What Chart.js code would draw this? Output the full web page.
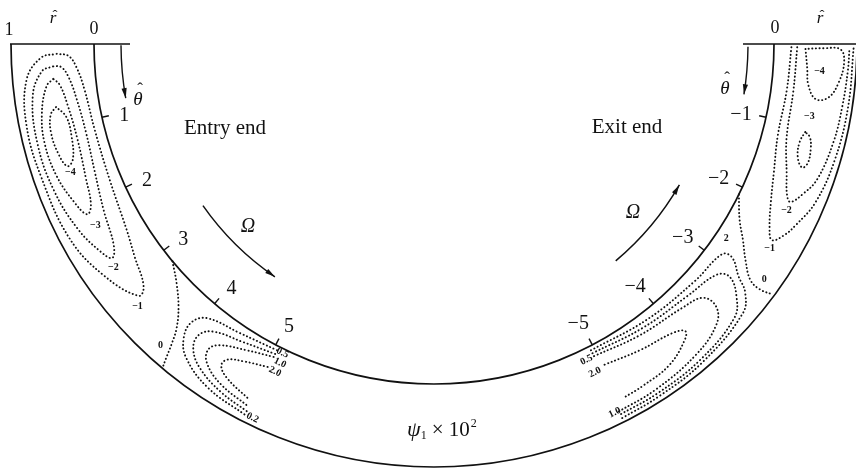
<!DOCTYPE html>
<html>
<head>
<meta charset="utf-8">
<script src="https://cdn.jsdelivr.net/npm/chart.js@4.4.0/dist/chart.umd.min.js"></script>
<style>
  html, body { margin: 0; padding: 0; background: #fff; }
  canvas { display: block; }
</style>
</head>
<body>
<canvas id="bend" width="856" height="468"></canvas>
<script>
// Annular bend: r-hat runs 0 (inner wall) -> 1 (outer wall),
// theta-hat runs along the bend from the entry end (left) and exit end (right).
var R_IN = 340, R_OUT = 423;
var DEG_PER_THETA = 12.45;
var INK = '#111';
var SERIF = '"Liberation Serif", "DejaVu Serif", serif';

// theta-hat ticks on the inner wall
var entryTicks = [1, 2, 3, 4, 5];
var exitTicks = [-1, -2, -3, -4, -5];
// r-hat labels at each end
var entryRLabels = ['1', '0'];
var exitRLabels = ['0'];

// psi_1 x 10^2 contours, points are [theta-hat, r-hat]
var entryPsiM4 = [[0.76,0.52],[0.84,0.6],[1.05,0.64],[1.3,0.62],[1.48,0.56],[1.42,0.47],[1.15,0.41],[0.9,0.42],[0.76,0.52]];
var entryPsiM3 = [[0.42,0.51],[0.5,0.6],[0.8,0.7],[1.15,0.745],[1.55,0.72],[1.9,0.64],[2.1,0.56],[2.02,0.47],[1.7,0.4],[1.2,0.35],[0.75,0.38],[0.5,0.44],[0.42,0.51]];
var entryPsiM2 = [[0.27,0.5],[0.32,0.64],[0.6,0.78],[1.15,0.83],[1.7,0.81],[2.2,0.74],[2.55,0.64],[2.7,0.56],[2.58,0.46],[2.15,0.36],[1.65,0.27],[1.15,0.23],[0.7,0.26],[0.4,0.33],[0.28,0.41],[0.27,0.5]];
var entryPsiM1 = [[0.12,0.45],[0.16,0.64],[0.4,0.83],[0.9,0.91],[1.5,0.9],[2.26,0.88],[2.82,0.76],[3.25,0.58],[3.2,0.46],[2.85,0.33],[2.5,0.23],[1.83,0.14],[1.15,0.12],[0.6,0.15],[0.3,0.22],[0.15,0.31],[0.12,0.45]];
var entryPsi0 = [[3.19,0.0],[3.45,0.14],[3.68,0.32],[3.84,0.52],[3.92,0.7],[3.98,0.88],[4.02,1.0]];
var entryPsi02 = [[5.05,0.05],[4.5,0.1],[4.05,0.19],[3.93,0.35],[3.98,0.55],[4.15,0.72],[4.55,0.86],[5.07,0.92]];
var entryPsi05 = [[5.05,0.1],[4.6,0.17],[4.22,0.27],[4.1,0.41],[4.15,0.58],[4.35,0.72],[4.7,0.82],[5.06,0.87]];
var entryPsi10 = [[5.05,0.14],[4.7,0.23],[4.38,0.36],[4.3,0.48],[4.38,0.62],[4.65,0.74],[5.05,0.81]];
var entryPsi20 = [[5.04,0.28],[4.75,0.36],[4.56,0.45],[4.54,0.55],[4.68,0.64],[5.02,0.73]];

var exitPsiM4 = [[-0.06,0.38],[-0.3,0.41],[-0.5,0.44],[-0.66,0.55],[-0.62,0.7],[-0.44,0.8],[-0.2,0.85],[-0.06,0.8],[-0.05,0.6],[-0.06,0.38]];
var exitPsiM3 = [[-1.07,0.5],[-1.2,0.465],[-1.38,0.49],[-1.49,0.58],[-1.42,0.63],[-1.25,0.615],[-1.12,0.57],[-1.07,0.5]];
var exitPsiM2 = [[-0.04,0.28],[-0.6,0.27],[-1.2,0.3],[-1.62,0.43],[-1.86,0.53],[-1.92,0.6],[-1.78,0.7],[-1.56,0.8],[-1.1,0.86],[-0.7,0.88],[-0.3,0.9],[-0.04,0.91]];
var exitPsiM1 = [[-0.04,0.21],[-0.6,0.19],[-1.2,0.19],[-1.66,0.28],[-2.0,0.38],[-2.3,0.51],[-2.42,0.61],[-2.3,0.71],[-2.13,0.78],[-1.81,0.88],[-1.3,0.93],[-0.7,0.95],[-0.04,0.96]];
var exitPsi0 = [[-2.11,0.0],[-2.4,0.15],[-2.6,0.31],[-2.8,0.48],[-2.95,0.66],[-2.97,0.82],[-2.93,0.98]];
var exitPsi02 = [[-5.05,0.05],[-4.2,0.1],[-3.4,0.15],[-2.9,0.2],[-2.86,0.32],[-3.0,0.52],[-3.1,0.7],[-3.3,0.84],[-4.0,0.92],[-4.6,0.94],[-5.1,0.95]];
var exitPsi05 = [[-5.05,0.09],[-4.3,0.15],[-3.6,0.21],[-3.15,0.3],[-3.07,0.44],[-3.2,0.65],[-3.4,0.8],[-4.0,0.88],[-4.6,0.9],[-5.1,0.9]];
var exitPsi10 = [[-5.05,0.13],[-4.4,0.2],[-3.75,0.27],[-3.48,0.36],[-3.45,0.55],[-3.6,0.7],[-4.0,0.8],[-4.6,0.85],[-5.1,0.86]];
var exitPsi20 = [[-4.98,0.28],[-4.5,0.35],[-4.05,0.42],[-3.92,0.5],[-4.0,0.58],[-4.32,0.7],[-4.7,0.73],[-4.97,0.74]];

// contour value labels: [text, theta-hat, r-hat, written along the wall]
var entryLevelLabels = [
  ['\u22124', 1.56, 0.55, false], ['\u22123', 2.26, 0.53, false], ['\u22122', 2.8, 0.61, false],
  ['\u22121', 3.33, 0.67, false], ['0', 3.84, 0.81, false],
  ['0.5', 5.13, 0.05, true], ['1.0', 5.16, 0.17, true], ['2.0', 5.15, 0.29, true], ['0.2', 5.15, 0.91, true]
];
var exitLevelLabels = [
  ['\u22124', -0.33, 0.56, false], ['\u22123', -0.88, 0.51, false], ['\u22122', -2.03, 0.6, false],
  ['\u22121', -2.52, 0.64, false], ['0', -2.85, 0.79, false], ['2', -2.7, 0.13, false],
  ['0.5', -5.16, 0.13, true], ['2.0', -5.13, 0.31, true], ['1.0', -5.13, 0.85, true]
];

function polar(side, th, rh) {
  var phi = Math.abs(th) * DEG_PER_THETA * Math.PI / 180;
  var R = R_IN + rh * (R_OUT - R_IN);
  return { x: side * R * Math.cos(phi), y: -R * Math.sin(phi) };
}

function contour(side, pts) {
  return {
    data: pts.map(function (p) { return polar(side, p[0], p[1]); }),
    showLine: true,
    pointRadius: 0,
    borderColor: INK,
    borderWidth: 1.9,
    borderDash: [0.2, 3.5],
    borderCapStyle: 'round',
    tension: 0.4,
    fill: false
  };
}

var datasets = [
  entryPsiM4, entryPsiM3, entryPsiM2, entryPsiM1, entryPsi0, entryPsi02, entryPsi05, entryPsi10, entryPsi20
].map(function (c) { return contour(-1, c); }).concat([
  exitPsiM4, exitPsiM3, exitPsiM2, exitPsiM1, exitPsi0, exitPsi02, exitPsi05, exitPsi10, exitPsi20
].map(function (c) { return contour(1, c); }));

// walls, ticks, arrows and lettering
var bendFrame = {
  id: 'bendFrame',
  afterDatasetsDraw: function (chart) {
    var ctx = chart.ctx, xs = chart.scales.x, ys = chart.scales.y;
    var cx = xs.getPixelForValue(0), cy = ys.getPixelForValue(0);
    var k = xs.getPixelForValue(1) - cx;

    function at(x, y) { return [xs.getPixelForValue(x), ys.getPixelForValue(y)]; }
    function P(side, th, R) {
      var phi = Math.abs(th) * DEG_PER_THETA * Math.PI / 180;
      return at(side * R * Math.cos(phi), -R * Math.sin(phi));
    }
    function angle(side, th) {
      var phi = Math.abs(th) * DEG_PER_THETA * Math.PI / 180;
      return side < 0 ? Math.PI - phi : phi;
    }
    function line(a, b) {
      ctx.beginPath(); ctx.moveTo(a[0], a[1]); ctx.lineTo(b[0], b[1]); ctx.stroke();
    }
    function head(tip, from, len, half) {
      var a = Math.atan2(tip[1] - from[1], tip[0] - from[0]);
      var bx = tip[0] - len * Math.cos(a), by = tip[1] - len * Math.sin(a);
      ctx.beginPath();
      ctx.moveTo(tip[0], tip[1]);
      ctx.lineTo(bx + half * Math.sin(a), by - half * Math.cos(a));
      ctx.lineTo(bx - half * Math.sin(a), by + half * Math.cos(a));
      ctx.closePath(); ctx.fill();
    }
    function arcArrow(side, R, th0, th1) {
      var a0 = angle(side, th0), a1 = angle(side, th1);
      ctx.beginPath(); ctx.arc(cx, cy, R * k, a0, a1, a1 < a0); ctx.stroke();
      head(P(side, th1, R), P(side, th1 + (th0 - th1) * 0.12, R), 10, 2.6);
    }
    function text(str, p, font, align, rot) {
      ctx.save();
      ctx.translate(p[0], p[1]);
      if (rot) ctx.rotate(rot);
      ctx.font = font;
      ctx.textAlign = align || 'center';
      ctx.textBaseline = 'middle';
      ctx.fillText(str, 0, 0);
      ctx.restore();
    }
    function hatted(ch, p, size, lift) {
      text(ch, p, 'italic ' + size + 'px ' + SERIF);
      text('\u02C6', [p[0] + 2, p[1] - lift], (size - 2) + 'px ' + SERIF);
    }

    ctx.save();
    ctx.strokeStyle = INK; ctx.fillStyle = INK;
    ctx.lineWidth = 1.7;

    // walls
    ctx.beginPath(); ctx.arc(cx, cy, R_OUT * k, 0, Math.PI); ctx.stroke();
    ctx.beginPath(); ctx.arc(cx, cy, R_IN * k, 0, Math.PI); ctx.stroke();
    line(at(-R_OUT - 1, 0), at(-304, 0));
    line(at(309, 0), at(R_OUT + 10, 0));

    // theta-hat ticks and numbers
    ctx.lineWidth = 1.4;
    entryTicks.forEach(function (t) {
      line(P(-1, t, R_IN), P(-1, t, R_IN - 7));
      text(String(t), P(-1, t + 0.05, 318), '20px ' + SERIF);
    });
    exitTicks.forEach(function (t) {
      line(P(1, t, R_IN), P(1, t, R_IN - 7));
      text('\u2212' + Math.abs(t), P(1, t - 0.04, 315), '20px ' + SERIF);
    });

    // r-hat labels at the two ends
    text(entryRLabels[0], at(-R_OUT - 2, 14), '18px ' + SERIF);
    text(entryRLabels[1], at(-R_IN, 15), '18px ' + SERIF);
    text(exitRLabels[0], at(R_IN + 1, 16), '18px ' + SERIF);
    hatted('r', at(-381, 25), 17, 3);
    hatted('r', at(386, 25), 17, 3);

    // theta-hat direction arrows
    ctx.lineWidth = 1.4;
    arcArrow(-1, 313, 0.02, 0.8);
    arcArrow(1, 314, -0.04, -0.74);
    hatted('\u03B8', at(-296, -56), 19, 10);
    hatted('\u03B8', at(291, -45), 19, 10);

    // rotation arrows
    ctx.lineWidth = 1.5;
    arcArrow(-1, 282, 2.81, 4.47);
    arcArrow(1, 283, -4.02, -2.4);
    text('\u03A9', P(-1, 3.58, 261), 'italic 20px ' + SERIF);
    text('\u03A9', P(1, -3.24, 261), 'italic 20px ' + SERIF);

    // end names
    text('Entry end', at(-209, -84), '21px ' + SERIF);
    text('Exit end', at(193, -83), '21px ' + SERIF);

    // contour values
    function levelLabels(side, list) {
      list.forEach(function (l) {
        var p = polar(side, l[1], l[2]);
        var phi = Math.abs(l[1]) * DEG_PER_THETA * Math.PI / 180;
        var rot = l[3] ? side * -(Math.PI / 2 - phi) : 0;
        text(l[0], at(p.x, p.y), 'bold 10px ' + SERIF, 'center', rot);
      });
    }
    levelLabels(-1, entryLevelLabels);
    levelLabels(1, exitLevelLabels);

    // quantity shown: psi_1 x 10^2
    var base = at(-27, -386);
    ctx.textBaseline = 'middle'; ctx.textAlign = 'left';
    var x = base[0], y = base[1];
    ctx.font = 'italic 22px ' + SERIF; ctx.fillText('\u03C8', x, y); x += ctx.measureText('\u03C8').width;
    ctx.font = '12px ' + SERIF; ctx.fillText('1', x, y + 6); x += ctx.measureText('1').width + 5;
    ctx.font = '21px ' + SERIF; ctx.fillText('\u00D7 10', x, y); x += ctx.measureText('\u00D7 10').width + 1;
    ctx.font = '12px ' + SERIF; ctx.fillText('2', x, y - 6);

    ctx.restore();
  }
};

new Chart(document.getElementById('bend'), {
  type: 'scatter',
  data: { datasets: datasets },
  options: {
    responsive: false,
    animation: false,
    events: [],
    layout: { padding: 0 },
    plugins: { legend: { display: false }, tooltip: { enabled: false } },
    scales: {
      x: { type: 'linear', min: -434, max: 422, display: false },
      y: { type: 'linear', min: -424, max: 44, display: false }
    }
  },
  plugins: [bendFrame]
});
</script>
</body>
</html>
